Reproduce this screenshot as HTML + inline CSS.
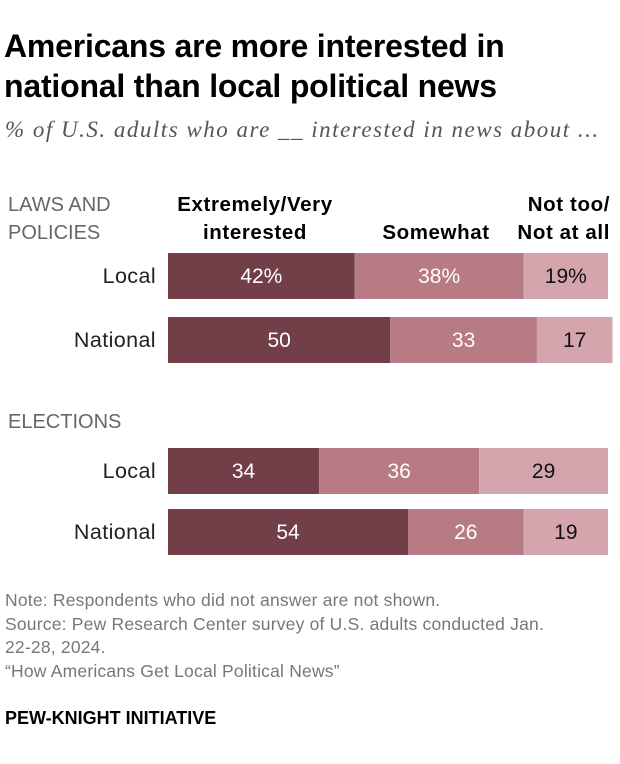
<!DOCTYPE html>
<html><head><meta charset="utf-8"><style>
body{margin:0;width:620px;height:764px;background:#fff;font-family:"Liberation Sans",Arial,sans-serif;position:relative;overflow:hidden}
.t{position:absolute;white-space:nowrap}
</style></head><body>
<div class="t" style="left:4px;top:26px;font-size:32px;font-weight:bold;line-height:40px;color:#000;letter-spacing:-0.2px">Americans are more interested in<br>national than local political news</div>
<div class="t" style="left:5px;top:117px;font-size:23px;font-style:italic;font-family:'Liberation Serif',serif;color:#555;letter-spacing:1.5px">% of U.S. adults who are __ interested in news about ...</div>
<svg id="chart" width="620" height="764" style="position:absolute;left:0;top:0" font-family="Liberation Sans, Arial, sans-serif"></svg>
<div class="t" style="left:5px;top:589px;font-size:17.5px;line-height:23.5px;color:#777;letter-spacing:0.2px">Note: Respondents who did not answer are not shown.<br>Source: Pew Research Center survey of U.S. adults conducted Jan.<br>22-28, 2024.<br>“How Americans Get Local Political News”</div>
<div class="t" style="left:5px;top:708px;font-size:18px;font-weight:bold;color:#000">PEW-KNIGHT INITIATIVE</div>
<script>
const rows = ["Local","National","Local","National"];
const extremely = [42,50,34,54];
const somewhat = [38,33,36,26];
const notToo = [19,17,29,19];
const labelsFirst = ["42%","50","34","54"];
const labelsMid = ["38%","33","36","26"];
const labelsLast = ["19%","17","29","19"];
const rowTops = [253,317,448,509];
const x0 = 168, scale = 4.445, barH = 46;
const xs = v => x0 + v*scale;
const svg = document.getElementById('chart');
const NS = 'http://www.w3.org/2000/svg';
function txt(x,y,s,attrs,name){const t=document.createElementNS(NS,'text');t.setAttribute('x',x);t.setAttribute('y',y);for(const k in attrs)t.setAttribute(k,attrs[k]);t.textContent=s;


svg.appendChild(t);return t;}
const heads=[["LAWS AND",8,211],["POLICIES",8,239],["ELECTIONS",8,428]];
heads.forEach(h=>txt(h[1],h[2],h[0],{'font-size':20,fill:'#666'},'section-label'));
const B={'font-size':20.5,'font-weight':'bold','letter-spacing':'0.6'};
txt(255,211,'Extremely/Very',Object.assign({'text-anchor':'middle'},B),'legend-extremely');
txt(255,239,'interested',Object.assign({'text-anchor':'middle'},B),'legend-extremely');
txt(436,239,'Somewhat',Object.assign({'text-anchor':'middle'},B),'legend-somewhat');
txt(610,211,'Not too/',Object.assign({'text-anchor':'end'},B),'legend-not-too');
txt(610,239,'Not at all',Object.assign({'text-anchor':'end'},B),'legend-not-too');
const cols=['#723e48','#b87a84','#d4a5ac'];
rows.forEach((r,i)=>{
  const y=rowTops[i];
  txt(156,y+barH/2+7,r,{'font-size':21.5,'text-anchor':'end',fill:'#222','letter-spacing':'0.4'},'row-label');
  const vals=[extremely[i],somewhat[i],notToo[i]];
  const labs=[labelsFirst[i],labelsMid[i],labelsLast[i]];
  let acc=0;
  vals.forEach((v,j)=>{
    const rc=document.createElementNS(NS,'rect');
    rc.setAttribute('x',xs(acc));rc.setAttribute('y',y);rc.setAttribute('width',v*scale);rc.setAttribute('height',barH);rc.setAttribute('fill',cols[j]);
    
    
    svg.appendChild(rc);
    txt(xs(acc+v/2),y+barH/2+7,labs[j],{'font-size':21,'text-anchor':'middle',fill:j==2?'#111':'#fff'},'bar-value');
    acc+=v;
  });
});
</script>
</body></html>
